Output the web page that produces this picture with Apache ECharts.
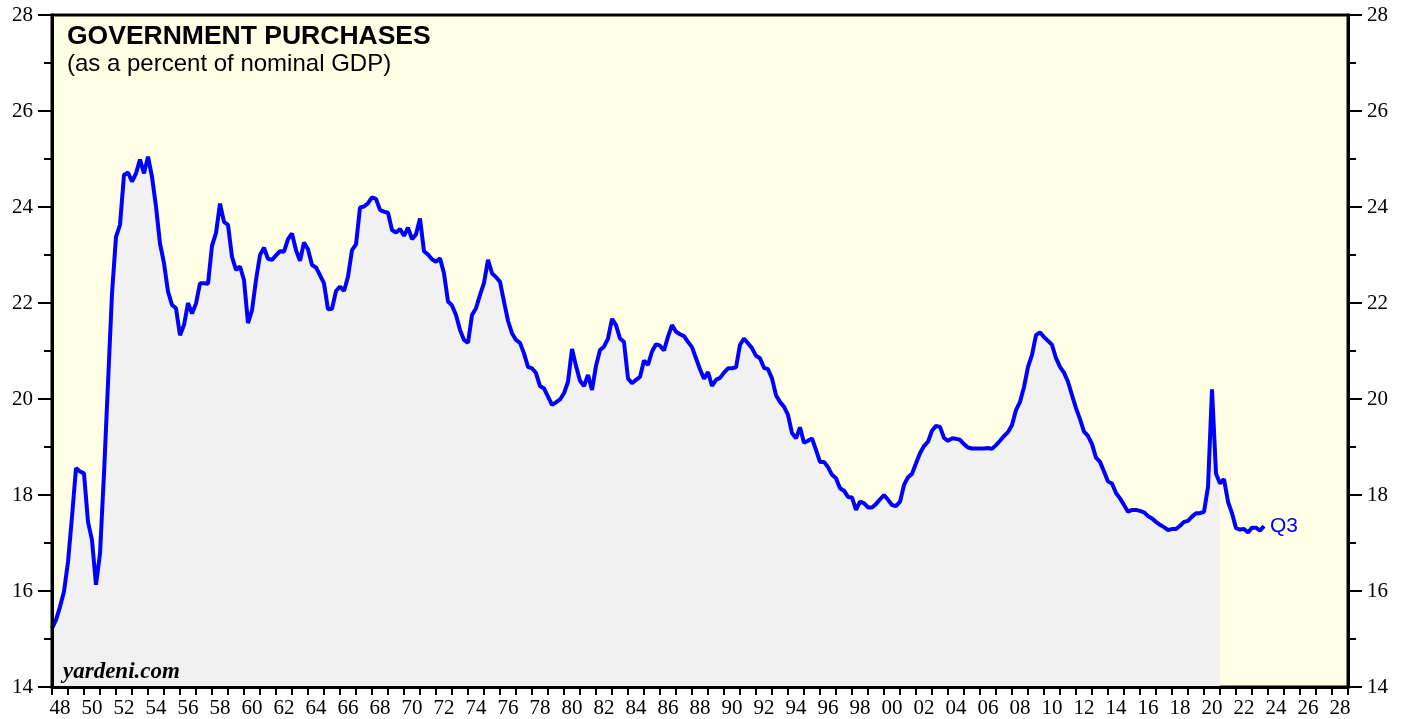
<!DOCTYPE html>
<html lang="en">
<head>
<meta charset="UTF-8" />
<title>Government Purchases</title>
<script src="https://cdn.jsdelivr.net/npm/echarts@6/dist/echarts.min.js"></script>
<style>
    * { margin: 0; padding: 0; }
    body { background: #fff; }
    #main { width: 1407px; height: 719px; }
</style>
</head>
<body>
<div id="main"></div>
<script>
    // government purchases, % of nominal GDP, quarterly
    // first value sits at 1948.0, one point every quarter after that
    const firstYear = 1948;
    const q1948_49 = [15.22, 15.40, 15.67, 15.99, 16.61, 17.55, 18.56, 18.49];
    const q1950s = [
        18.45, 17.44, 17.06, 16.13, 16.78, 18.45, 20.33, 22.20,
        23.38, 23.63, 24.67, 24.72, 24.53, 24.70, 24.99, 24.70,
        25.05, 24.63, 24.01, 23.24, 22.83, 22.24, 21.96, 21.89,
        21.33, 21.54, 22.00, 21.78, 21.99, 22.41, 22.41, 22.40,
        23.19, 23.46, 24.07, 23.69, 23.63, 22.96, 22.69, 22.76
    ];
    const q1960s = [
        22.48, 21.58, 21.85, 22.48, 23.00, 23.15, 22.92, 22.90,
        22.99, 23.08, 23.07, 23.33, 23.45, 23.10, 22.88, 23.26,
        23.12, 22.79, 22.74, 22.58, 22.41, 21.87, 21.88, 22.25,
        22.34, 22.25, 22.55, 23.10, 23.22, 23.99, 24.01, 24.08,
        24.20, 24.17, 23.94, 23.90, 23.88, 23.52, 23.47, 23.54
    ];
    const q1970s = [
        23.40, 23.57, 23.33, 23.43, 23.76, 23.08, 23.01, 22.91,
        22.86, 22.93, 22.62, 22.03, 21.95, 21.75, 21.44, 21.23,
        21.17, 21.75, 21.89, 22.17, 22.42, 22.90, 22.62, 22.54,
        22.44, 22.03, 21.63, 21.37, 21.23, 21.17, 20.95, 20.67,
        20.64, 20.54, 20.27, 20.22, 20.05, 19.88, 19.93, 19.99
    ];
    const q1980s = [
        20.12, 20.36, 21.04, 20.69, 20.38, 20.27, 20.50, 20.19,
        20.69, 21.02, 21.09, 21.26, 21.67, 21.54, 21.26, 21.19,
        20.43, 20.33, 20.40, 20.46, 20.80, 20.71, 20.99, 21.14,
        21.11, 21.01, 21.30, 21.54, 21.40, 21.35, 21.31, 21.19,
        21.08, 20.85, 20.62, 20.42, 20.56, 20.27, 20.40, 20.44
    ];
    const q1990s = [
        20.55, 20.64, 20.64, 20.66, 21.13, 21.26, 21.16, 21.06,
        20.90, 20.85, 20.65, 20.62, 20.43, 20.08, 19.94, 19.84,
        19.67, 19.29, 19.18, 19.41, 19.09, 19.13, 19.18, 18.94,
        18.69, 18.69, 18.58, 18.42, 18.35, 18.14, 18.09, 17.96,
        17.95, 17.69, 17.86, 17.83, 17.74, 17.74, 17.81, 17.91
    ];
    const q2000s = [
        18.00, 17.90, 17.79, 17.77, 17.86, 18.21, 18.37, 18.44,
        18.66, 18.87, 19.02, 19.11, 19.34, 19.44, 19.42, 19.19,
        19.13, 19.18, 19.17, 19.15, 19.06, 18.99, 18.97, 18.97,
        18.97, 18.97, 18.98, 18.96, 19.04, 19.13, 19.23, 19.31,
        19.46, 19.77, 19.94, 20.25, 20.67, 20.92, 21.33, 21.39
    ];
    const q2010s = [
        21.29, 21.21, 21.13, 20.85, 20.67, 20.55, 20.36, 20.08,
        19.81, 19.58, 19.32, 19.23, 19.06, 18.78, 18.69, 18.49,
        18.28, 18.24, 18.04, 17.93, 17.79, 17.65, 17.69, 17.69,
        17.67, 17.64, 17.56, 17.51, 17.44, 17.38, 17.33, 17.27,
        17.29, 17.29, 17.36, 17.44, 17.46, 17.55, 17.62, 17.62
    ];
    const q2020s = [
        17.65, 18.17, 20.20, 18.45, 18.24, 18.33, 17.86, 17.62,
        17.31, 17.28, 17.29, 17.22, 17.32, 17.32, 17.26, 17.35
    ];
    const shadeEnd = 2021.0;   // grey area under the line stops here
    const lastLabel = "Q3";

    const allValues = [].concat(q1948_49, q1950s, q1960s, q1970s, q1980s, q1990s, q2000s, q2010s, q2020s);
    const points = allValues.map((v, i) => [firstYear + i * 0.25, v]);
    const shadePoints = points.filter((p) => p[0] <= shadeEnd);

    // year labels 48 .. 28, centred on each year
    let yearLabels = [];
    for (let y = 1948; y <= 2028; y++) {
        yearLabels.push(String(y).slice(2));
    }

    const serif = "Liberation Serif";
    const sans = "Liberation Sans";

    function yAxisCfg(pos) {
        return {
            type: "value",
            position: pos,
            min: 14,
            max: 28,
            interval: 2,
            z: 5,
            axisLine: { show: true, lineStyle: { color: "#000", width: 3 } },
            axisTick: { show: true, length: 14, lineStyle: { color: "#000", width: 2 } },
            minorTick: { show: true, splitNumber: 2, length: 8, lineStyle: { color: "#000", width: 2 } },
            splitLine: { show: false },
            axisLabel: { color: "#000", fontFamily: serif, fontSize: 21, margin: 19 },
        };
    }

    var myChart = echarts.init(document.getElementById("main"));
    var option = {
        animation: false,
        backgroundColor: "#fff",
        grid: {
            left: 52, right: 59, top: 15, bottom: 32,
            show: true,
            backgroundColor: "#ffffe6",
            borderColor: "#000",
            borderWidth: 3,
        },
        xAxis: [
            { type: "value", min: 1948, max: 2029, show: false },
            {
                type: "category",
                data: yearLabels,
                position: "bottom",
                boundaryGap: true,
                z: 5,
                axisLine: { lineStyle: { color: "#000", width: 3 } },
                axisTick: { show: true, interval: 0, length: 8, lineStyle: { color: "#000", width: 2 } },
                axisLabel: { interval: 1, color: "#000", fontFamily: serif, fontSize: 21, margin: 11 },
            },
        ],
        yAxis: [yAxisCfg("left"), yAxisCfg("right")],
        series: [
            {
                type: "line",
                xAxisIndex: 0,
                yAxisIndex: 0,
                data: shadePoints,
                symbol: "none",
                silent: true,
                lineStyle: { opacity: 0 },
                areaStyle: { color: "#f1f1f1", opacity: 1, origin: "start" },
                z: 1,
            },
            {
                type: "line",
                xAxisIndex: 0,
                yAxisIndex: 0,
                data: points,
                symbol: "none",
                lineStyle: { color: "#0000ff", width: 4 },
                endLabel: {
                    show: true,
                    formatter: lastLabel,
                    color: "#0000ff",
                    fontFamily: sans,
                    fontSize: 21,
                    distance: 6,
                },
                z: 3,
            },
        ],
        graphic: [
            { type: "text", left: 67, top: 23, z: 100,
              style: { text: "GOVERNMENT PURCHASES", font: 'bold 26.5px "Liberation Sans"', fill: "#000" } },
            { type: "text", left: 67, top: 52, z: 100,
              style: { text: "(as a percent of nominal GDP)", font: '24px "Liberation Sans"', fill: "#000" } },
            { type: "text", left: 63, top: 661, z: 100,
              style: { text: "yardeni.com", font: 'italic bold 23px "Liberation Serif"', fill: "#000" } },
        ],
    };
    option && myChart.setOption(option);
</script>
</body>
</html>
